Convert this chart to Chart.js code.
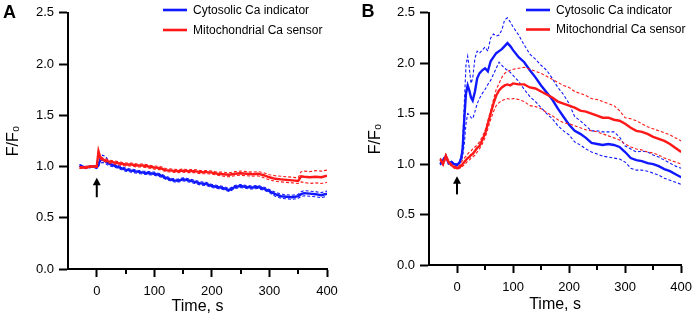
<!DOCTYPE html>
<html><head><meta charset="utf-8">
<script src="https://cdn.jsdelivr.net/npm/chart.js@4"></script>
<style>
html,body{margin:0;padding:0;background:#fff;}
#wrap{position:relative;width:699px;height:320px;overflow:hidden;}
canvas{position:absolute;top:0;}
#cA{left:0;} #cB{left:350px;}
</style></head><body>
<div id="wrap"><canvas id="cA" width="350" height="320"></canvas><canvas id="cB" width="349" height="320"></canvas></div>
<script>
// ---------- data ----------
const seriesLabels = ['Cytosolic Ca indicator', 'Mitochondrial Ca sensor'];
const panelLetters = ['A', 'B'];
const xTickValues = [0, 100, 200, 300, 400];
const xMinorTickValues = [50, 150, 250, 350];
const yTickValues = [0, 0.5, 1.0, 1.5, 2.0, 2.5];
const xAxisTitle = 'Time, s';
const yAxisTitle = 'F/F\u2080';
const arrowTime = 0;
const arrowTailA = 0.70, arrowTipA = 0.89;
const arrowTailB = 0.70, arrowTipB = 0.88;

const timeA = [-30,-20,-10,-5,0,3,6,10,15,20,30,40,50,60,70,80,90,100,110,120,130,140,150,160,170,180,190,200,210,220,230,240,250,260,270,280,290,300,310,320,330,340,350,355,360,370,380,390,400];
const cytoMeanA = [1.01,0.99,1.00,1.00,0.99,1.02,1.06,1.07,1.05,1.03,1.01,0.99,0.97,0.96,0.95,0.94,0.935,0.93,0.915,0.89,0.87,0.86,0.875,0.865,0.85,0.835,0.83,0.81,0.80,0.79,0.77,0.80,0.81,0.80,0.795,0.80,0.785,0.76,0.73,0.71,0.705,0.70,0.71,0.73,0.74,0.735,0.73,0.72,0.735];
const cytoUpperA = [1.02,1.00,1.01,1.01,1.00,1.04,1.09,1.11,1.10,1.06,1.025,1.005,0.985,0.975,0.965,0.955,0.95,0.945,0.93,0.905,0.885,0.875,0.89,0.88,0.865,0.85,0.845,0.825,0.815,0.805,0.785,0.815,0.825,0.815,0.81,0.815,0.80,0.775,0.75,0.73,0.725,0.72,0.73,0.755,0.765,0.76,0.755,0.745,0.76];
const cytoLowerA = [1.00,0.98,0.99,0.99,0.98,1.00,1.03,1.04,1.03,1.01,0.995,0.975,0.955,0.945,0.935,0.925,0.92,0.915,0.90,0.875,0.855,0.845,0.86,0.85,0.835,0.82,0.815,0.795,0.785,0.775,0.755,0.785,0.795,0.785,0.78,0.785,0.77,0.745,0.71,0.69,0.685,0.68,0.69,0.705,0.715,0.71,0.705,0.695,0.71];
const mitoMeanA = [0.99,0.99,1.00,1.00,1.00,1.15,1.09,1.07,1.06,1.05,1.04,1.03,1.02,1.02,1.01,1.01,1.00,0.99,0.985,0.965,0.96,0.955,0.96,0.955,0.955,0.945,0.945,0.94,0.93,0.925,0.92,0.93,0.935,0.93,0.925,0.93,0.915,0.895,0.88,0.875,0.87,0.865,0.86,0.905,0.90,0.895,0.90,0.895,0.91];
const mitoUpperA = [1.00,1.00,1.01,1.01,1.01,1.16,1.10,1.085,1.075,1.065,1.055,1.045,1.035,1.035,1.025,1.025,1.015,1.005,1.00,0.98,0.975,0.97,0.975,0.97,0.97,0.96,0.96,0.955,0.945,0.945,0.94,0.95,0.955,0.95,0.945,0.95,0.94,0.92,0.91,0.905,0.90,0.895,0.89,0.95,0.955,0.95,0.96,0.955,0.965];
const mitoLowerA = [0.98,0.98,0.99,0.99,0.99,1.12,1.075,1.055,1.045,1.035,1.025,1.015,1.005,1.005,0.995,0.995,0.985,0.975,0.97,0.95,0.945,0.94,0.945,0.94,0.94,0.93,0.93,0.925,0.915,0.905,0.90,0.91,0.915,0.91,0.905,0.91,0.89,0.87,0.855,0.85,0.845,0.84,0.835,0.85,0.845,0.835,0.84,0.835,0.845];

const timeB = [-30,-25,-20,-15,-10,-5,0,5,8,10,13,16,19,22,25,28,32,36,40,45,50,55,60,65,70,75,80,85,90,95,100,110,120,130,140,150,160,170,180,190,200,210,220,230,240,250,260,270,280,290,300,310,320,330,340,350,360,370,380,390,400];
const cytoMeanB = [1.00,1.04,1.08,1.01,1.02,1.00,0.99,1.02,1.07,1.15,1.45,1.70,1.78,1.73,1.66,1.63,1.72,1.85,1.90,1.93,1.95,1.92,2.02,2.06,2.10,2.12,2.14,2.17,2.20,2.17,2.13,2.06,2.01,1.93,1.86,1.78,1.71,1.64,1.55,1.47,1.39,1.33,1.30,1.26,1.21,1.20,1.19,1.20,1.19,1.17,1.12,1.06,1.04,1.03,1.01,1.00,0.98,0.95,0.93,0.90,0.87];
const cytoUpperB = [1.01,1.05,1.09,1.02,1.03,1.01,1.00,1.03,1.10,1.20,1.60,1.98,2.07,1.95,1.80,1.85,2.05,2.12,2.10,2.13,2.16,2.12,2.25,2.29,2.27,2.28,2.33,2.43,2.45,2.41,2.36,2.28,2.18,2.09,2.04,1.98,1.93,1.85,1.76,1.69,1.60,1.47,1.43,1.38,1.33,1.33,1.32,1.32,1.32,1.27,1.18,1.15,1.12,1.13,1.12,1.09,1.07,1.04,1.01,0.98,0.96];
const cytoLowerB = [0.99,1.03,1.07,1.00,1.01,0.99,0.98,1.01,1.04,1.08,1.20,1.40,1.50,1.49,1.46,1.45,1.52,1.60,1.65,1.70,1.74,1.79,1.83,1.89,1.95,2.01,1.98,1.95,1.93,1.91,1.88,1.82,1.74,1.67,1.62,1.56,1.50,1.45,1.38,1.33,1.29,1.22,1.19,1.15,1.12,1.10,1.08,1.07,1.06,1.05,1.02,0.96,0.94,0.94,0.93,0.91,0.89,0.86,0.84,0.82,0.80];
const mitoMeanB = [1.05,1.00,1.08,1.02,0.99,0.97,0.96,0.97,0.99,1.00,1.02,1.04,1.06,1.07,1.09,1.10,1.13,1.16,1.18,1.24,1.30,1.40,1.50,1.60,1.68,1.73,1.76,1.78,1.79,1.78,1.80,1.79,1.79,1.76,1.75,1.72,1.69,1.66,1.62,1.60,1.58,1.56,1.53,1.52,1.50,1.48,1.46,1.46,1.44,1.43,1.40,1.36,1.33,1.32,1.30,1.27,1.25,1.23,1.20,1.16,1.12];
const mitoUpperB = [1.06,1.01,1.10,1.03,1.00,0.98,0.97,0.99,1.02,1.04,1.06,1.08,1.10,1.12,1.13,1.15,1.17,1.19,1.22,1.27,1.33,1.43,1.53,1.64,1.74,1.80,1.86,1.90,1.92,1.93,1.94,1.95,1.96,1.94,1.92,1.90,1.87,1.84,1.81,1.78,1.76,1.72,1.70,1.68,1.65,1.64,1.62,1.60,1.58,1.53,1.46,1.45,1.43,1.40,1.37,1.35,1.33,1.31,1.29,1.26,1.23];
const mitoLowerB = [1.04,0.99,1.06,1.01,0.98,0.96,0.95,0.96,0.97,0.98,0.99,1.01,1.03,1.04,1.06,1.07,1.09,1.12,1.15,1.20,1.26,1.35,1.44,1.52,1.58,1.61,1.63,1.64,1.65,1.64,1.65,1.64,1.62,1.58,1.57,1.55,1.51,1.48,1.44,1.41,1.40,1.38,1.36,1.34,1.33,1.32,1.30,1.28,1.26,1.24,1.20,1.17,1.15,1.14,1.12,1.11,1.09,1.06,1.04,1.02,1.00];

// ---------- styling ----------
const BLUE = 'rgb(16,24,255)';
const RED = 'rgb(255,24,24)';
const FONT = "'Liberation Sans', Arial, Helvetica, sans-serif";

const panels = [
  { canvas: 'cA', letter: panelLetters[0], time: timeA,
    cyto: [cytoMeanA, cytoUpperA, cytoLowerA], mito: [mitoMeanA, mitoUpperA, mitoLowerA],
    arrow: [arrowTailA, arrowTipA],
    layout: { yWidth: 68, padTop: 10.7, padRight: 23, xHeight: 51, xTickPad: 6.5, xTitlePad: 3.7, yTitlePad: 4,
              legendX: 163, legendY: 10, legendGap: 20, letterX: 3, letterY: 17.5 } },
  { canvas: 'cB', letter: panelLetters[1], time: timeB,
    cyto: [cytoMeanB, cytoUpperB, cytoLowerB], mito: [mitoMeanB, mitoUpperB, mitoLowerB],
    arrow: [arrowTailB, arrowTipB],
    layout: { yWidth: 79, padTop: 9.3, padRight: 13, xHeight: 55, xTickPad: 7, xTitlePad: 5.7, yTitlePad: 16.2,
              legendX: 176, legendY: 10, legendGap: 19.5, letterX: 11.5, letterY: 17 } }
];
const panelById = {};
panels.forEach(p => { panelById[p.canvas] = p; });

const decorPlugin = {
  id: 'decor',
  afterDraw(chart) {
    const p = panelById[chart.canvas.id];
    if (!p) return;
    const L = p.layout;
    const ctx = chart.ctx, xs = chart.scales.x, ys = chart.scales.y, ca = chart.chartArea;
    ctx.save();
    // minor x ticks
    ctx.strokeStyle = '#000'; ctx.lineWidth = 2;
    xMinorTickValues.forEach(v => {
      const px = Math.round(xs.getPixelForValue(v));
      ctx.beginPath(); ctx.moveTo(px, ca.bottom); ctx.lineTo(px, ca.bottom + 5); ctx.stroke();
    });
    // stimulus arrow
    const ax = xs.getPixelForValue(arrowTime);
    const yTail = ys.getPixelForValue(p.arrow[0]);
    const yTip = ys.getPixelForValue(p.arrow[1]);
    ctx.beginPath(); ctx.moveTo(ax, yTail); ctx.lineTo(ax, yTip + 6); ctx.stroke();
    ctx.fillStyle = '#000';
    ctx.beginPath(); ctx.moveTo(ax, yTip); ctx.lineTo(ax - 4, yTip + 7.5); ctx.lineTo(ax + 4, yTip + 7.5); ctx.closePath(); ctx.fill();
    // legend
    ctx.font = '12px ' + FONT; ctx.textBaseline = 'middle'; ctx.textAlign = 'left';
    [BLUE, RED].forEach((c, i) => {
      const y = L.legendY + i * L.legendGap;
      ctx.strokeStyle = c; ctx.lineWidth = 2.6;
      ctx.beginPath(); ctx.moveTo(L.legendX, y); ctx.lineTo(L.legendX + 24, y); ctx.stroke();
      ctx.fillStyle = '#000';
      ctx.fillText(seriesLabels[i], L.legendX + 30, y + 0.5);
    });
    // panel letter
    ctx.font = 'bold 18px ' + FONT; ctx.textBaseline = 'alphabetic';
    ctx.fillText(p.letter, L.letterX, L.letterY);
    ctx.restore();
  }
};

function lineDs(time, vals, color, main) {
  return {
    data: time.map((t, i) => ({ x: t, y: vals[i] })),
    borderColor: color,
    borderWidth: main ? 2.4 : 1.1,
    borderDash: main ? [] : [3, 2],
    pointRadius: 0, tension: 0, fill: false
  };
}

panels.forEach(p => {
  const L = p.layout;
  const datasets = [
    lineDs(p.time, p.mito[0], RED, true), lineDs(p.time, p.mito[1], RED, false), lineDs(p.time, p.mito[2], RED, false),
    lineDs(p.time, p.cyto[0], BLUE, true), lineDs(p.time, p.cyto[1], BLUE, false), lineDs(p.time, p.cyto[2], BLUE, false)
  ];
  new Chart(document.getElementById(p.canvas), {
    type: 'line',
    data: { datasets },
    options: {
      responsive: false, animation: false, devicePixelRatio: 1,
      layout: { padding: { top: L.padTop, right: L.padRight, left: 0, bottom: 0 } },
      plugins: { legend: { display: false }, tooltip: { enabled: false } },
      scales: {
        x: {
          type: 'linear', min: -50, max: 400,
          afterBuildTicks: s => { s.ticks = xTickValues.map(v => ({ value: v })); },
          afterFit: s => { s.height = L.xHeight; },
          grid: { display: true, drawOnChartArea: false, drawTicks: true, tickLength: 8, tickWidth: 2, tickColor: '#000' },
          border: { display: true, color: '#000', width: 2 },
          ticks: { color: '#000', font: { family: FONT, size: 13 }, padding: L.xTickPad, maxRotation: 0, autoSkip: false,
                   callback: v => String(v) },
          title: { display: true, text: xAxisTitle, color: '#000', font: { family: FONT, size: 16 }, padding: { top: 0, bottom: L.xTitlePad } }
        },
        y: {
          type: 'linear', min: 0, max: 2.5,
          afterBuildTicks: s => { s.ticks = yTickValues.map(v => ({ value: v })); },
          afterFit: s => { s.width = L.yWidth; },
          grid: { display: true, drawOnChartArea: false, drawTicks: true, tickLength: 9, tickWidth: 2, tickColor: '#000' },
          border: { display: true, color: '#000', width: 2 },
          ticks: { color: '#000', font: { family: FONT, size: 13 }, padding: 5, callback: v => Number(v).toFixed(1) },
          title: { display: true, text: yAxisTitle, color: '#000', font: { family: FONT, size: 16 }, padding: { top: L.yTitlePad, bottom: 0 } }
        }
      }
    },
    plugins: [decorPlugin]
  });
});
</script>
</body></html>
